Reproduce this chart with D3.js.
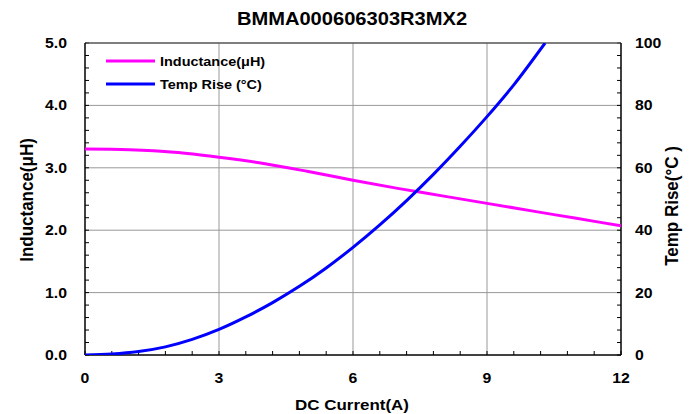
<!DOCTYPE html>
<html>
<head>
<meta charset="utf-8">
<script src="https://cdn.jsdelivr.net/npm/d3@7"></script>
<style>
  body { margin: 0; background: #fff; }
  text { font-family: "Liberation Sans", Arial, sans-serif; font-weight: bold; fill: #000; }
</style>
</head>
<body>
<svg id="chart" width="694" height="414"></svg>
<script>
// values
const current = [0, 1, 2, 3, 4, 5, 6, 7, 8, 9, 10, 11, 12];
const inductance = [3.30, 3.29, 3.25, 3.17, 3.07, 2.94, 2.80, 2.67, 2.55, 2.43, 2.31, 2.19, 2.07];
const tempCurrent = [0, 0.6, 1.2, 1.8, 2.4, 3, 3.6, 4.2, 4.8, 5.4, 6, 6.6, 7.2, 7.8, 8.4, 9, 9.6, 10.3];
const tempRise = [0, 0.3, 1.1, 2.6, 5.0, 8.2, 12.2, 16.8, 22.0, 27.9, 34.5, 41.7, 49.5, 57.9, 66.9, 76.4, 86.6, 100];
const xTicks = [0, 3, 6, 9, 12];
const yLeftTicks = [0, 1, 2, 3, 4, 5];
const yRightTicks = [0, 20, 40, 60, 80, 100];
const legendNames = ["Inductance(μH)", "Temp Rise (°C)"];
const colors = ["#ff00ff", "#0000ff"];

const sx = 1.13; // reference text is a little wider than it is tall
const svg = d3.select("#chart");
const pLeft = 85, pRight = 621, pTop = 43, pBottom = 355;

const x = d3.scaleLinear().domain([0, 12]).range([pLeft, pRight]);
const yL = d3.scaleLinear().domain([0, 5]).range([pBottom, pTop]);
const yR = d3.scaleLinear().domain([0, 100]).range([pBottom, pTop]);

function label(str, px, py, size, anchor, rot) {
    const g = svg.append("g")
        .attr("transform", "translate(" + px + "," + py + ") scale(" + sx + ",1)" + (rot ? " rotate(" + rot + ")" : ""));
    g.append("text")
        .attr("text-anchor", anchor)
        .style("font-size", size + "px")
        .text(str);
}

// gridlines
svg.append("g").selectAll("line")
    .data(xTicks.slice(1, -1))
    .enter().append("line")
    .attr("x1", d => x(d)).attr("x2", d => x(d))
    .attr("y1", pTop).attr("y2", pBottom)
    .attr("stroke", "#999").attr("stroke-width", 1);

svg.append("g").selectAll("line")
    .data(yLeftTicks.slice(1, -1))
    .enter().append("line")
    .attr("x1", pLeft).attr("x2", pRight)
    .attr("y1", d => yL(d)).attr("y2", d => yL(d))
    .attr("stroke", "#999").attr("stroke-width", 1);

// inner minor ticks
svg.append("g").selectAll("line")
    .data(d3.range(0, 5.001, 0.2))
    .enter().append("line")
    .attr("x1", pLeft).attr("x2", pLeft + 4)
    .attr("y1", d => yL(d)).attr("y2", d => yL(d))
    .attr("stroke", "#000");

svg.append("g").selectAll("line")
    .data(d3.range(0, 100.01, 4))
    .enter().append("line")
    .attr("x1", pRight).attr("x2", pRight - 4)
    .attr("y1", d => yR(d)).attr("y2", d => yR(d))
    .attr("stroke", "#000");

svg.append("g").selectAll("line")
    .data(d3.range(0, 12.01, 0.6))
    .enter().append("line")
    .attr("x1", d => x(d)).attr("x2", d => x(d))
    .attr("y1", pBottom).attr("y2", pBottom - 4)
    .attr("stroke", "#000");

// frame
svg.append("line").attr("x1", pLeft).attr("x2", pRight).attr("y1", pTop).attr("y2", pTop)
    .attr("stroke", "#555").attr("stroke-width", 1.5);
svg.append("line").attr("x1", pLeft).attr("x2", pRight).attr("y1", pBottom).attr("y2", pBottom)
    .attr("stroke", "#000").attr("stroke-width", 1.5);
svg.append("line").attr("x1", pLeft).attr("x2", pLeft).attr("y1", pTop).attr("y2", pBottom)
    .attr("stroke", "#000").attr("stroke-width", 1.5);
svg.append("line").attr("x1", pRight).attr("x2", pRight).attr("y1", pTop).attr("y2", pBottom)
    .attr("stroke", "#000").attr("stroke-width", 1.5);

// curves
svg.append("clipPath").attr("id", "plot")
    .append("rect").attr("x", pLeft).attr("y", pTop).attr("width", pRight - pLeft).attr("height", pBottom - pTop);

const lineL = d3.line().x(d => x(d[0])).y(d => yL(d[1])).curve(d3.curveCatmullRom);
const lineR = d3.line().x(d => x(d[0])).y(d => yR(d[1])).curve(d3.curveCatmullRom);

svg.append("path")
    .datum(d3.zip(current, inductance))
    .attr("d", lineL)
    .attr("fill", "none").attr("stroke", colors[0]).attr("stroke-width", 3)
    .attr("clip-path", "url(#plot)");

svg.append("path")
    .datum(d3.zip(tempCurrent, tempRise))
    .attr("d", lineR)
    .attr("fill", "none").attr("stroke", colors[1]).attr("stroke-width", 3)
    .attr("clip-path", "url(#plot)");

// tick labels
xTicks.forEach(d => label(d, x(d), 383, 14, "middle"));
yLeftTicks.forEach(d => label(d.toFixed(1), 67, yL(d) + 5, 14, "end"));
yRightTicks.forEach(d => label(d, 635, yR(d) + 5, 14, "start"));

// titles
label("BMMA000606303R3MX2", 352, 25, 17.8, "middle");
label("DC Current(A)", 352, 410, 15, "middle");
label("Inductance(μH)", 33, 200, 17, "middle", -90);
label("Temp Rise(°C )", 678, 206, 17, "middle", -90);

// legend
legendNames.forEach((n, i) => {
    const ly = 61 + i * 23;
    svg.append("line")
        .attr("x1", 106).attr("x2", 155).attr("y1", ly).attr("y2", ly)
        .attr("stroke", colors[i]).attr("stroke-width", 3);
    label(n, 160, ly + 5, 12.8, "start");
});
</script>
</body>
</html>
